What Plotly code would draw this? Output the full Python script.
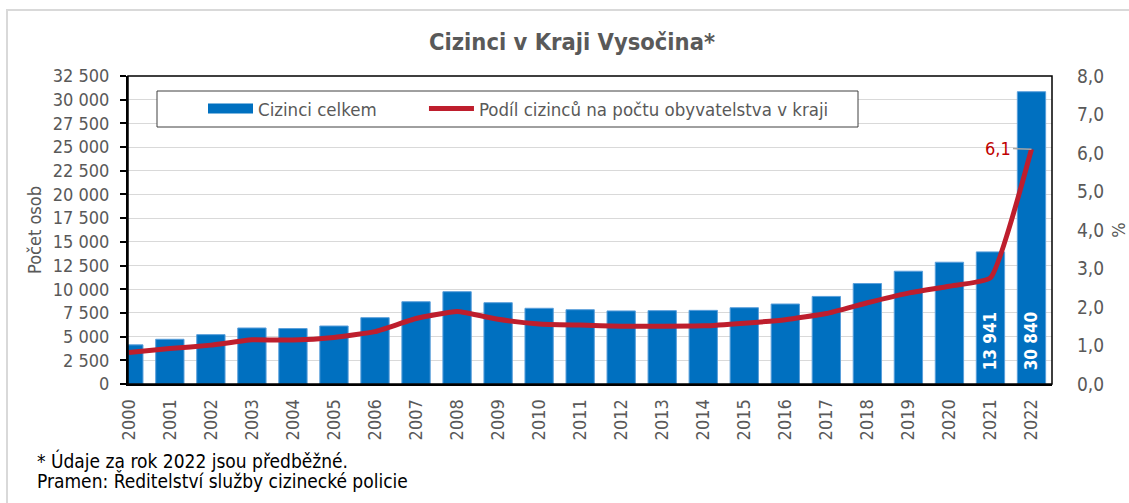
import plotly.graph_objects as go

years = [str(y) for y in range(2000, 2023)]
foreigners = [4130, 4720, 5210, 5910, 5850, 6120, 7000, 8680, 9740, 8580,
              7990, 7840, 7710, 7740, 7770, 8050, 8440, 9240, 10600, 11900,
              12850, 13941, 30840]
share = [0.82, 0.92, 1.01, 1.15, 1.14, 1.21, 1.36, 1.70, 1.88, 1.68,
         1.56, 1.53, 1.50, 1.50, 1.51, 1.58, 1.67, 1.83, 2.11, 2.36,
         2.54, 2.76, 6.1]
labelled_years = ["2021", "2022"]
share_label_year = "2022"

series_bar = "Cizinci celkem"
series_line = "Podíl cizinců na počtu obyvatelstva v kraji"
title = "Cizinci v Kraji Vysočina*"
y_title = "Počet osob"
y2_title = "%"
note1 = "* Údaje za rok 2022 jsou předběžné."
note2 = "Pramen: Ředitelství služby cizinecké policie"

FONT = "DejaVu Sans Condensed, DejaVu Sans, sans-serif"
GRAY = "#595959"
BLUE = "#0070C0"
RED = "#BE1E2D"

# plot area in pixels
L, R, T, B = 128, 77, 76, 119
W, H = 1129, 503
PW, PH = W - L - R, H - T - B


def px_x(px):
    return (px - L) / PW


def px_y(py):
    return (H - B - py) / PH


NB = "\u00a0"
bar_text = [NB * 2 + f"{v:,}".replace(",", " ") if y in labelled_years else ""
            for y, v in zip(years, foreigners)]

fig = go.Figure()
fig.add_trace(go.Bar(
    x=years, y=foreigners, name=series_bar, showlegend=False,
    marker=dict(color=BLUE, line=dict(color="#5A9FDB", width=1)),
    text=bar_text, textposition="inside", insidetextanchor="start",
    textangle=-90, textfont=dict(color="white", size=17, family=FONT, weight="bold"),
    cliponaxis=True,
))
# legend entry for bars (wide rectangle swatch like the original)
fig.add_trace(go.Scatter(
    x=[None], y=[None], mode="lines", name=series_bar + NB * 8,
    line=dict(color=BLUE, width=10),
))
fig.add_trace(go.Scatter(
    x=years, y=share, yaxis="y2", mode="lines", name=series_line,
    line=dict(color=RED, width=5, shape="spline", smoothing=0.4),
))

i = years.index(share_label_year)
fig.add_annotation(
    x=i, y=share[i], xref="x", yref="y2",
    text=f"{share[i]:.1f}".replace(".", ","),
    showarrow=True, arrowhead=0, arrowwidth=1.5, arrowcolor="#A6A6A6",
    ax=-33, ay=-1, standoff=0,
    font=dict(color="#C00000", size=18, family=FONT),
)

fig.add_annotation(x=px_x(35), y=px_y(460), xref="paper", yref="paper",
                   text=note1, showarrow=False, xanchor="left", yanchor="middle",
                   font=dict(color="#000000", size=19, family=FONT))
fig.add_annotation(x=px_x(35), y=px_y(481), xref="paper", yref="paper",
                   text=note2, showarrow=False, xanchor="left", yanchor="middle",
                   font=dict(color="#000000", size=19, family=FONT))

# outer chart frame
fig.add_shape(type="rect", xref="paper", yref="paper",
              x0=px_x(7), x1=px_x(1140), y0=px_y(10), y1=px_y(520),
              line=dict(color="#D9D9D9", width=2), layer="below")
# plot area border
fig.add_shape(type="rect", xref="paper", yref="paper", x0=0, x1=1, y0=0, y1=1,
              line=dict(color="#000000", width=1.5), layer="above")
# legend box
fig.add_shape(type="rect", xref="paper", yref="paper",
              x0=px_x(157), x1=px_x(858), y0=px_y(91), y1=px_y(127),
              line=dict(color="#404040", width=1), fillcolor="white", layer="above")

fig.update_layout(
    width=W, height=H,
    margin=dict(l=L, r=R, t=T, b=B, autoexpand=False),
    paper_bgcolor="white", plot_bgcolor="white",
    separators=", ",
    bargap=0.31,
    font=dict(family=FONT, color=GRAY, size=18),
    title=dict(text=f"<b>{title}</b>", x=572 / W, xref="container", xanchor="center",
               y=1 - 42 / H, yref="container", yanchor="middle",
               font=dict(size=23.5, color=GRAY, family=FONT)),
    xaxis=dict(type="category", range=[-0.02, 22.5], tickangle=-90, automargin=False,
               showline=True, linecolor="black", linewidth=2, ticks="",
               showgrid=False, tickfont=dict(size=18, color=GRAY),
               ticklabelstandoff=6),
    yaxis=dict(range=[0, 32500], dtick=2500, tickformat=",d", automargin=False,
               showline=True, linecolor="black", linewidth=2,
               ticks="outside", ticklen=6, tickwidth=2, tickcolor="black",
               gridcolor="#D9D9D9", gridwidth=1,
               tickfont=dict(size=18, color=GRAY), ticklabelstandoff=7,
               title=dict(text=y_title, standoff=6, font=dict(size=18, color=GRAY))),
    yaxis2=dict(range=[0, 8], dtick=1, tickformat=".1f", overlaying="y", side="right",
                automargin=False,
                showgrid=False, showline=False, ticks="", zeroline=False,
                tickfont=dict(size=19, color=GRAY), ticklabelstandoff=24,
                title=dict(text=y2_title, standoff=32, font=dict(size=18, color=GRAY))),
    legend=dict(orientation="h", x=px_x(203), y=px_y(109), xanchor="left", yanchor="middle",
                bgcolor="rgba(0,0,0,0)", borderwidth=0,
                font=dict(size=18.5, color=GRAY), traceorder="normal",
                itemwidth=45),
)

fig.write_html("out.html", config={"displayModeBar": False},
               post_script="document.body.style.margin='0';")
